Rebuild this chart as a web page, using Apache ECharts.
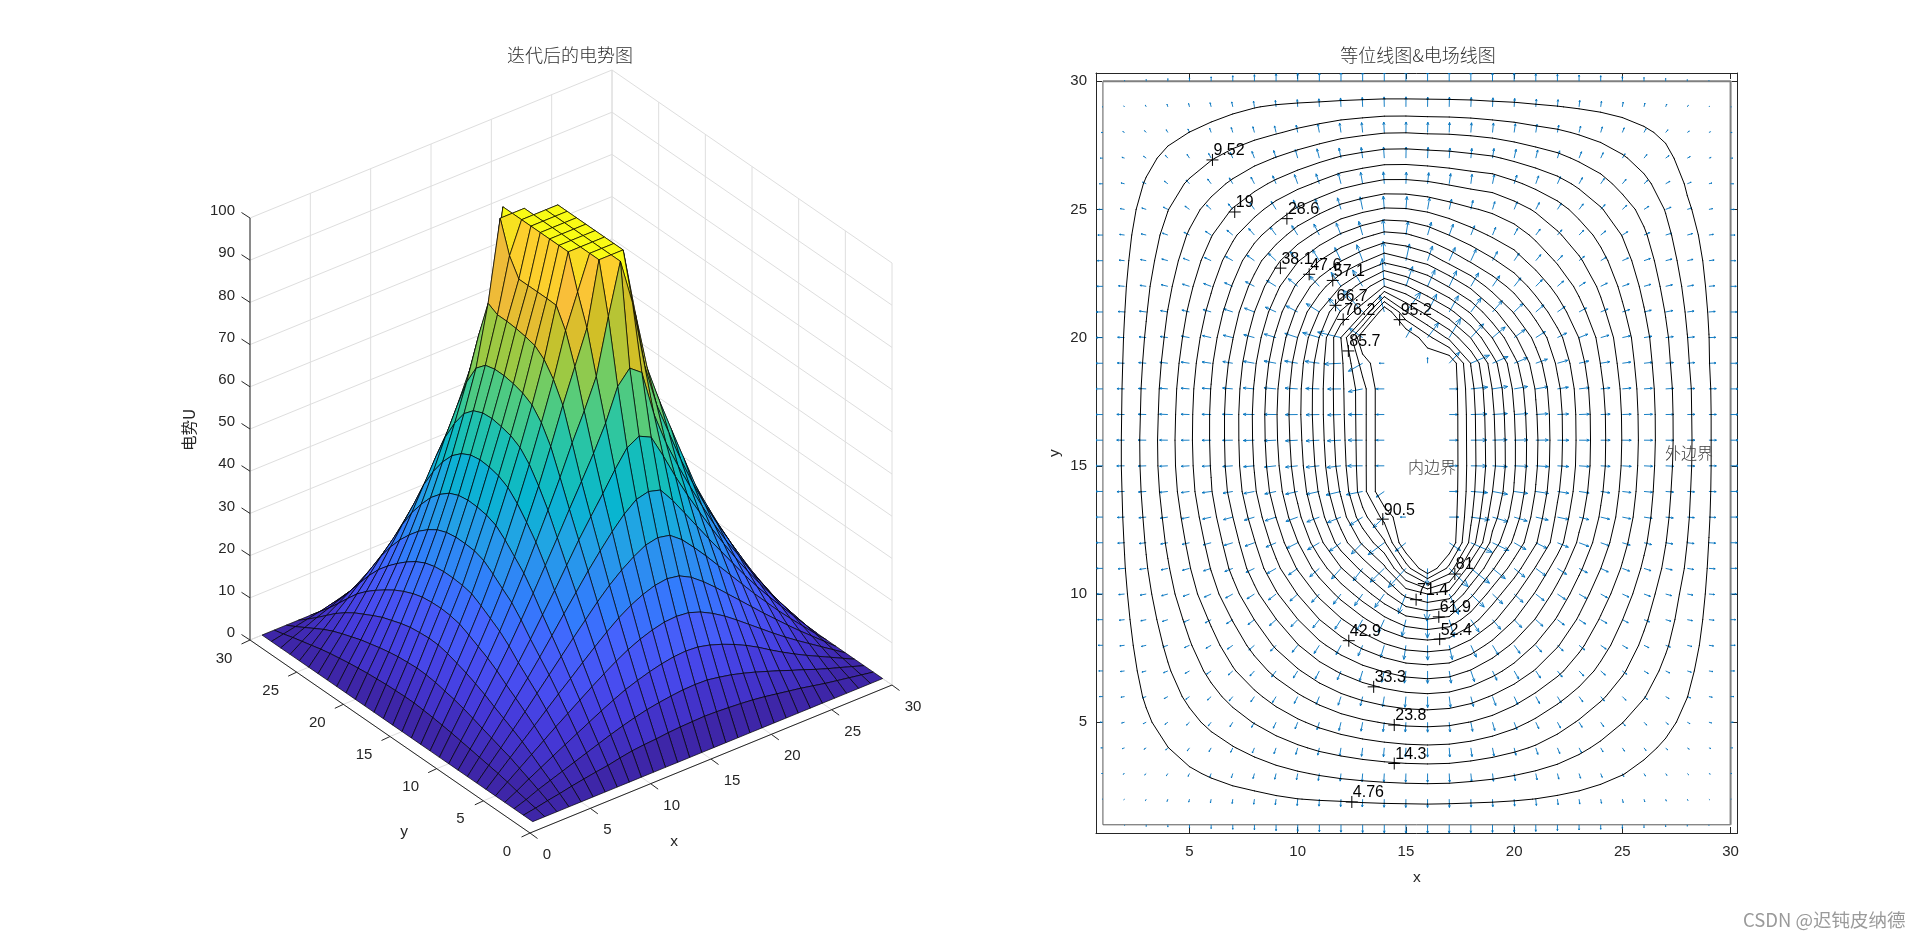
<!DOCTYPE html>
<html>
<head>
<meta charset="utf-8">
<title>电势图</title>
<script src="https://cdn.jsdelivr.net/npm/echarts@6/dist/echarts.min.js"></script>
<style>
html,body{margin:0;padding:0;background:#fff;}
#main{width:1920px;height:937px;}
</style>
</head>
<body>
<div id="main"></div>
<script>
// potential, one row per y (y=1 first), x=1..30 in each row
var row1  = [0,0,0,0,0,0,0,0,0,0,0,0,0,0,0,0,0,0,0,0,0,0,0,0,0,0,0,0,0,0];
var row2  = [0,.5,1.1,1.6,2.2,2.7,3.2,3.6,4.2,4.7,5,5.2,5.5,5.7,5.8,5.9,5.8,5.6,5.4,5.1,4.7,4.2,3.7,3.2,2.6,2,1.5,1,.5,0];
var row3  = [0,1,2.2,3.2,4.2,5.2,6.2,7.2,8.2,9.1,9.9,10.6,11.1,11.5,11.8,11.9,11.8,11.3,10.7,9.9,9,8,7,5.9,4.9,3.8,2.8,1.9,.95,0];
var row4  = [0,1.5,3.2,4.7,6.3,7.8,9.3,10.8,12.3,13.7,15,16,16.9,17.6,18.1,18.3,18.1,17.4,16.4,15.2,13.8,12.2,10.4,8.7,7.1,5.6,4.2,2.8,1.4,0];
var row5  = [0,2.1,4.2,6.3,8.4,10.5,12.5,14.5,16.5,18.4,20.2,21.8,23.1,24.1,24.8,25,24.7,23.7,22.2,20.4,18.3,16.1,13.9,11.7,9.6,7.6,5.7,3.8,1.9,0];
var row6  = [0,2.6,5.2,7.8,10.4,13,15.6,18.1,20.7,23.2,25.6,27.8,29.6,31,32,32.4,31.9,30.4,28.2,25.7,23,20.3,17.6,14.9,12.3,9.7,7.2,4.8,2.4,0];
var row7  = [0,3,6,9.1,12.2,15.4,18.6,21.8,25,28.1,31.2,34,36.4,38.4,40,40.6,40,37.8,34.8,31.6,28.2,24.8,21.4,18,14.8,11.6,8.6,5.7,2.8,0];
var row8  = [0,3.4,6.8,10.3,13.9,17.5,21.3,25.2,29.2,33.1,37,40.6,44,47,49.3,50,49.2,45.6,41.4,37.2,33,28.9,24.8,20.8,17,13.4,10,6.6,3.3,0];
var row9  = [0,3.8,7.6,11.5,15.5,19.6,24,28.6,33.2,38,42.8,47.2,51.5,56,60,61.6,60.2,54.6,48.6,43,37.8,32.8,28,23.4,19.1,15,11.1,7.4,3.7,0];
var row10 = [0,4.2,8.4,12.8,17.3,22,27,32.2,37.6,43,48.6,54,59.5,65.5,73,76.2,74,63,55,48.4,42.3,36.5,31,25.9,21.4,16.5,12.2,8,4.1,0];
var row11 = [0,4.6,9.2,13.9,18.8,24,29.6,35.4,41.6,48,54.6,61.6,68,75,88,100,89,73,62.5,54.8,47.2,40.4,34.2,28.6,23.4,18.3,13.4,8.9,4.4,0];
var row12 = [0,4.9,9.8,14.9,20,25.5,31.4,37.8,44.8,52.2,60.4,69,77,85,100,100,100,84,69.6,60.8,52.8,45,37.2,31,25.2,19.8,14.4,9.5,4.7,0];
var row13 = [0,5.2,10.3,15.7,21.2,27,33.3,40.2,47.7,55.8,64.5,73.6,84,92,100,100,100,86.5,73.6,64.4,55,46.7,39.4,32.8,26.7,20.9,15.1,10,5,0];
var row14 = [0,5.4,10.8,16.5,22.3,28.3,35,42.2,50,58.3,67.2,76.8,88.5,100,100,100,100,87.8,76.2,66.4,56.9,48.3,40.8,34,27.6,21.6,15.6,10.3,5.2,0];
var row15 = [0,5.6,11.1,17,22.8,28.8,35.8,43.1,51.2,59.6,68.5,78.6,88.6,100,100,100,100,88.2,77.6,67.2,57.8,49.2,41.6,34.7,28.2,22,16,10.6,5.3,0];
var row16 = [0,5.6,11.2,17.1,23,29,36,43.5,51.8,60.2,69.2,79.2,88.6,100,100,100,100,88.1,77.4,67.2,58,49.4,41.8,34.8,28.4,22.2,16.2,10.7,5.3,0];
var row17 = [0,5.5,11,16.9,22.9,29,36,43.6,52,60.6,69.6,79.6,88.6,100,100,100,100,88,77,66.8,57.6,49.3,41.7,34.7,28.3,22.1,16.2,10.6,5.3,0];
var row18 = [0,5.4,10.8,16.6,22.6,28.7,35.6,43.2,51.6,60.4,69.6,79.8,88.6,100,100,100,100,87.4,76,65.8,56.8,48.6,41.2,34.2,27.9,21.8,16,10.5,5.2,0];
var row19 = [0,5.2,10.4,16,21.9,28,34.7,42.2,50.4,59.4,69,79.8,92.6,100,100,100,100,85.5,73.6,63.4,54.6,46.9,39.9,33.2,27.1,21.2,15.5,10,4.9,0];
var row20 = [0,5,9.9,15.2,20.9,26.8,33.2,40.4,48.4,57.2,66.8,81,100,100,100,92,84.5,76,66.5,58,51,44.4,38,32,26.2,20.5,15,9.6,4.8,0];
var row21 = [0,4.7,9.3,14.4,19.7,25.2,31.3,38.1,45.4,53.4,62,72,79.5,100,86,79,73,66,58.5,52,46,40.4,35,29.8,24.5,19.3,14.1,9,4.5,0];
var row22 = [0,4.4,8.7,13.3,18.2,23.3,28.9,35,41.6,48.6,55,62,69,76.2,72,66.7,61.5,56.2,50.5,46,41,36.6,32.2,27.7,22.8,18,13,8.3,4.1,0];
var row23 = [0,4,7.9,12.1,16.6,21.2,26.2,31.5,37,42.5,47.6,52.2,56.4,60.6,58,55.5,51,47,43.5,40,36.4,32.8,29.2,25.2,21,16.5,11.9,7.4,3.7,0];
var row24 = [0,3.6,7.1,10.9,14.8,18.8,23,27.2,31.2,35.6,39.6,43.4,46.4,48.9,48.2,45.8,42.8,40,37.5,35.5,32.4,29.2,26,22.6,18.9,14.9,10.7,6.4,3.2,0];
var row25 = [0,3.1,6.2,9.4,12.7,15.9,19.3,22.3,25.8,29.2,32,35,37,38.6,38.4,37.2,35.5,33.8,32.5,30.5,28,25.4,22.4,19.4,16.2,13,9.3,5.3,2.7,0];
var row26 = [0,2.5,5.1,7.7,10.1,12.6,15.1,17.6,20,22.3,24.6,27,28.6,29.9,29.9,29.3,28.2,27.2,26.5,24.6,22.6,20.6,18.2,15.8,13,10.5,7.6,4.3,2.1,0];
var row27 = [0,1.9,3.8,5.7,7.4,9.2,11,12.8,14.5,16.2,17.9,19.6,20.7,21.7,21.8,21.4,21,20.3,19.6,18.2,16.8,15.4,13.6,11.9,10,8,5.8,3.1,1.6,0];
var row28 = [0,1.3,2.5,3.7,4.8,5.9,7,8.1,9.2,10.3,11.4,12.6,13.4,14.1,14.2,13.9,13.8,13.4,12.8,12,11,10.2,9.1,8,6.8,5.4,4,2.1,1.1,0];
var row29 = [0,.6,1.2,1.8,2.4,3.1,3.9,4.6,5.2,5.6,5.9,6.3,6.6,6.9,6.9,6.8,6.7,6.5,6.1,5.8,5.3,4.9,4.4,3.9,3.3,2.7,2,1.1,.55,0];
var row30 = [0,0,0,0,0,0,0,0,0,0,0,0,0,0,0,0,0,0,0,0,0,0,0,0,0,0,0,0,0,0];
var U = [row1,row2,row3,row4,row5,row6,row7,row8,row9,row10,row11,row12,row13,row14,row15,
	row16,row17,row18,row19,row20,row21,row22,row23,row24,row25,row26,row27,row28,row29,row30];

var contourLevels = [4.76,9.52,14.29,19.05,23.81,28.57,33.33,38.1,42.86,47.62,52.38,57.14,61.9,66.67,71.43,76.19,80.95,85.71,90.48,95.24];
var labelText = ['9.52','19','28.6','38.1','47.6','57.1','66.7','76.2','85.7','95.2','90.5','81','71.4','61.9','52.4','42.9','33.3','23.8','14.3','4.76'];
var labelX = [6.06,7.09,9.5,9.2,10.53,11.62,11.75,12.1,12.34,14.71,13.93,17.26,15.47,16.52,16.56,12.36,13.51,14.46,14.46,12.5];
var labelY = [26.93,24.9,24.64,22.71,22.47,22.23,21.26,20.71,19.48,20.7,12.92,10.78,9.78,9.11,8.24,8.18,6.38,4.89,3.39,1.89];
var ticks2d = [5,10,15,20,25,30];
var ticksXY = [0,5,10,15,20,25,30];
var ticksZ = [0,10,20,30,40,50,60,70,80,90,100];

var parula = [[.2422,.1504,.6603],[.2706,.2147,.8364],[.2813,.3006,.9414],[.2699,.3892,.9906],[.1963,.4847,.9892],
	[.1687,.5703,.9359],[.1248,.6459,.8883],[.0297,.7082,.8163],[.0964,.75,.712],[.2161,.7843,.5923],[.3909,.8029,.4354],
	[.6174,.7876,.2612],[.8203,.7498,.1535],[.9728,.7298,.2394],[.9892,.8122,.1769],[.96,.908,.109],[.9769,.9839,.0805]];

var textColor = '#262626';
var gridColor = '#dedede';
var numFont = 'Liberation Sans';
var cjkFont = 'Noto Sans CJK SC';

// value 0..100 to a parula colour
function colorOf(v){
	var idx = Math.min(63, Math.floor(v / 100 * 64));
	var p = idx / 4, a = Math.min(parula.length - 1, Math.floor(p)), b = Math.min(parula.length - 1, a + 1), t = p - a;
	if (idx === 63) { a = b = parula.length - 1; }
	var c = [0,1,2].map(function(k){ return Math.round((parula[a][k] + (parula[b][k] - parula[a][k]) * t) * 255); });
	return 'rgb(' + c.join(',') + ')';
}

// orthographic view of the 3d box, result in page pixels
function project(x, y, z){
	return [530 + x / 30 * 362 - y / 30 * 280, 833 - x / 30 * 148 - y / 30 * 193 - z / 100 * 422];
}

// contour segments of one level, '-' pairs break the line
function contourOf(level){
	var out = [];
	for (var j = 0; j < 29; j++) {
		for (var i = 0; i < 29; i++) {
			var a = U[j][i], b = U[j][i + 1], c = U[j + 1][i + 1], d = U[j + 1][i], pts = [];
			if ((a >= level) !== (b >= level)) pts.push([i + 1 + (level - a) / (b - a), j + 1]);
			if ((b >= level) !== (c >= level)) pts.push([i + 2, j + 1 + (level - b) / (c - b)]);
			if ((d >= level) !== (c >= level)) pts.push([i + 1 + (level - d) / (c - d), j + 2]);
			if ((a >= level) !== (d >= level)) pts.push([i + 1, j + 1 + (level - a) / (d - a)]);
			for (var k = 0; k + 1 < pts.length; k += 2) {
				out.push(pts[k], pts[k + 1], ['-', '-']);
			}
		}
	}
	return out;
}

function gradX(j, i){
	if (i === 0) return U[j][1] - U[j][0];
	if (i === 29) return U[j][29] - U[j][28];
	return (U[j][i + 1] - U[j][i - 1]) / 2;
}
function gradY(j, i){
	if (j === 0) return U[1][i] - U[0][i];
	if (j === 29) return U[29][i] - U[28][i];
	return (U[j + 1][i] - U[j - 1][i]) / 2;
}

var cellData = [];
for (var j = 28; j >= 0; j--) {
	for (var i = 28; i >= 0; i--) cellData.push([i, j]);
}
var arrowData = [];
for (var j2 = 0; j2 < 30; j2++) {
	for (var i2 = 0; i2 < 30; i2++) arrowData.push([i2, j2]);
}

function renderCell(params, api){
	var i = api.value(0), j = api.value(1);
	var pts = [[i, j], [i + 1, j], [i + 1, j + 1], [i, j + 1]].map(function(p){
		return api.coord(project(p[0] + 1, p[1] + 1, U[p[1]][p[0]]));
	});
	return {type: 'polygon', shape: {points: pts}, style: {fill: colorOf(U[j][i]), stroke: '#000', lineWidth: 0.7}};
}

function seg(api, a, b, color, width){
	var p = api.coord(a), q = api.coord(b);
	return {type: 'line', shape: {x1: p[0], y1: p[1], x2: q[0], y2: q[1]}, style: {stroke: color, lineWidth: width}};
}
function label(api, at, text, size, family, align){
	var p = api.coord(at);
	return {type: 'text', x: p[0], y: p[1], style: {text: text, fontSize: size, fontFamily: family, fill: textColor, align: align || 'center', verticalAlign: 'middle'}};
}

// walls, ticks, tick labels of the 3d box
function renderBox(params, api){
	var kids = [];
	ticksXY.forEach(function(t){
		kids.push(seg(api, project(t, 30, 0), project(t, 30, 100), gridColor, 1));
		kids.push(seg(api, project(30, t, 0), project(30, t, 100), gridColor, 1));
		kids.push(seg(api, project(t, 0, 0), project(t, 30, 0), gridColor, 1));
		kids.push(seg(api, project(0, t, 0), project(30, t, 0), gridColor, 1));
	});
	ticksZ.forEach(function(z){
		kids.push(seg(api, project(0, 30, z), project(30, 30, z), gridColor, 1));
		kids.push(seg(api, project(30, 30, z), project(30, 0, z), gridColor, 1));
	});
	kids.push(seg(api, project(0, 0, 0), project(30, 0, 0), textColor, 1));
	kids.push(seg(api, project(0, 0, 0), project(0, 30, 0), textColor, 1));
	kids.push(seg(api, project(0, 30, 0), project(0, 30, 100), textColor, 1));
	ticksXY.forEach(function(t){
		var a = project(t, 0, 0), b = project(0, t, 0);
		kids.push(seg(api, a, [a[0] + 7.5, a[1] + 5.5], textColor, 1));
		kids.push(seg(api, b, [b[0] - 8.5, b[1] + 4], textColor, 1));
		kids.push(label(api, [a[0] + (t < 10 ? 17 : 21), a[1] + 22], String(t), 15, numFont));
		kids.push(label(api, [b[0] - (t < 10 ? 23 : 26), b[1] + 18.5], String(t), 15, numFont));
	});
	ticksZ.forEach(function(z){
		var c = project(0, 30, z);
		kids.push(seg(api, c, [c[0] - 8.5, c[1] - 5.5], textColor, 1));
		kids.push(label(api, [c[0] - 15, c[1] - 7], String(z), 15, numFont, 'right'));
	});
	kids.push(label(api, [674, 842], 'x', 15.5, numFont));
	kids.push(label(api, [404, 832], 'y', 15.5, numFont));
	var zTitle = label(api, [189, 430], '电势U', 15.5, cjkFont);
	zTitle.rotation = Math.PI / 2;
	kids.push(zTitle);
	return {type: 'group', children: kids};
}

function renderArrow(params, api){
	var i = api.value(0), j = api.value(1);
	var gx = gradX(j, i), gy = gradY(j, i);
	if (gx === 0 && gy === 0) return null;
	var p = api.coord([i + 1, j + 1]), q = api.coord([i + 1 - gx * 0.065, j + 1 - gy * 0.055]);
	var dx = q[0] - p[0], dy = q[1] - p[1], ang = Math.atan2(dy, dx), len = Math.sqrt(dx * dx + dy * dy) * 0.28;
	var style = {stroke: '#0072BD', lineWidth: 0.9, fill: null};
	return {type: 'group', children: [
		{type: 'line', shape: {x1: p[0], y1: p[1], x2: q[0], y2: q[1]}, style: style},
		{type: 'polyline', shape: {points: [
			[q[0] - len * Math.cos(ang - 0.4), q[1] - len * Math.sin(ang - 0.4)], q,
			[q[0] - len * Math.cos(ang + 0.4), q[1] - len * Math.sin(ang + 0.4)]]}, style: style}
	]};
}

function renderLabel(params, api){
	var p = api.coord([api.value(0), api.value(1)]), k = params.dataIndex;
	var stroke = {stroke: '#000', lineWidth: 1};
	return {type: 'group', children: [
		{type: 'line', shape: {x1: p[0] - 6, y1: p[1], x2: p[0] + 6, y2: p[1]}, style: stroke},
		{type: 'line', shape: {x1: p[0], y1: p[1] - 6, x2: p[0], y2: p[1] + 6}, style: stroke},
		{type: 'text', x: p[0] + 1, y: p[1] - 1, style: {text: labelText[k], fontSize: 16, fontFamily: numFont, fill: '#000', align: 'left', verticalAlign: 'bottom'}}
	]};
}

function renderNote(params, api){
	var p = api.coord([api.value(0), api.value(1)]);
	return {type: 'text', x: p[0], y: p[1], style: {text: params.dataIndex === 0 ? '内边界' : '外边界', fontSize: 16, fontFamily: cjkFont, fontWeight: 300, fill: '#404040', align: 'left', verticalAlign: 'middle'}};
}

var axisBase = {
	type: 'value', gridIndex: 1, min: 0.68, max: 30.32,
	splitLine: {show: false},
	axisLine: {show: true, onZero: false, lineStyle: {color: textColor, width: 1}},
	axisTick: {show: true, inside: true, length: 6, customValues: ticks2d, lineStyle: {color: textColor, width: 1}}
};
function axis(position, showLabel, name){
	return Object.assign({}, axisBase, {
		position: position,
		name: name,
		nameLocation: 'middle',
		nameGap: position === 'bottom' ? 37 : 33,
		nameTextStyle: {color: textColor, fontSize: 15.5, fontFamily: numFont},
		axisLabel: {show: showLabel, customValues: ticks2d, color: textColor, fontSize: 15, fontFamily: numFont, margin: position === 'bottom' ? 11 : 9}
	});
}
function hidden(max, inverse){
	return {type: 'value', gridIndex: 0, min: 0, max: max, inverse: inverse, show: false};
}

var series = [
	{type: 'custom', xAxisIndex: 0, yAxisIndex: 0, silent: true, clip: false, animation: false, data: [[0, 0]], renderItem: renderBox, z: 1},
	{type: 'custom', xAxisIndex: 0, yAxisIndex: 0, silent: true, clip: false, animation: false, progressive: 0, data: cellData, renderItem: renderCell, z: 2},
	{type: 'line', xAxisIndex: 1, yAxisIndex: 1, silent: true, animation: false, showSymbol: false, symbol: 'none',
		data: [[1, 1], [30, 1]], lineStyle: {color: '#595959', width: 1}, z: 3},
	{type: 'line', xAxisIndex: 1, yAxisIndex: 1, silent: true, animation: false, showSymbol: false, symbol: 'none',
		data: [[1, 1], [1, 30]], lineStyle: {color: '#595959', width: 1}, z: 3},
	{type: 'line', xAxisIndex: 1, yAxisIndex: 1, silent: true, animation: false, showSymbol: false, symbol: 'none',
		data: [[1, 30], [30, 30], [30, 1]], lineStyle: {color: '#808080', width: 2}, z: 3},
	{type: 'custom', xAxisIndex: 1, yAxisIndex: 1, silent: true, clip: true, animation: false, progressive: 0, data: arrowData, renderItem: renderArrow, z: 4}
];
contourLevels.forEach(function(level){
	series.push({type: 'line', xAxisIndex: 1, yAxisIndex: 1, silent: true, animation: false, showSymbol: false, symbol: 'none',
		connectNulls: false, data: contourOf(level), lineStyle: {color: '#000', width: 1, cap: 'round'}, z: 5});
});
series.push({type: 'custom', xAxisIndex: 1, yAxisIndex: 1, silent: true, clip: false, animation: false,
	data: labelX.map(function(x, k){ return [x, labelY[k]]; }), renderItem: renderLabel, z: 6});
series.push({type: 'custom', xAxisIndex: 1, yAxisIndex: 1, silent: true, clip: false, animation: false,
	data: [[15.1, 14.95], [26.97, 15.49]], renderItem: renderNote, z: 6});

var myChart = echarts.init(document.getElementById('main'), null, {renderer: 'canvas'});
myChart.setOption({
	backgroundColor: '#ffffff',
	animation: false,
	title: [
		{text: '迭代后的电势图', left: 565, top: 50, textAlign: 'center', textVerticalAlign: 'middle',
			textStyle: {fontSize: 18, fontWeight: 300, fontFamily: cjkFont, color: '#303030'}},
		{text: '等位线图&电场线图', left: 1413, top: 50, textAlign: 'center', textVerticalAlign: 'middle',
			textStyle: {fontSize: 18, fontWeight: 300, fontFamily: cjkFont, color: '#303030'}},
		{text: 'CSDN @迟钝皮纳德', left: 1738, top: 915, textVerticalAlign: 'middle',
			textStyle: {fontSize: 18.5, fontWeight: 400, fontFamily: cjkFont, color: '#9a9a9a'}}
	],
	grid: [
		{left: 0, top: 0, width: 1920, height: 937, show: false},
		{left: 1096, top: 73, width: 641.5, height: 760, show: false}
	],
	xAxis: [hidden(1920, false), axis('bottom', true, 'x'), axis('top', false, '')],
	yAxis: [hidden(937, true), axis('left', true, 'y'), axis('right', false, '')],
	series: series
});
</script>
</body>
</html>
